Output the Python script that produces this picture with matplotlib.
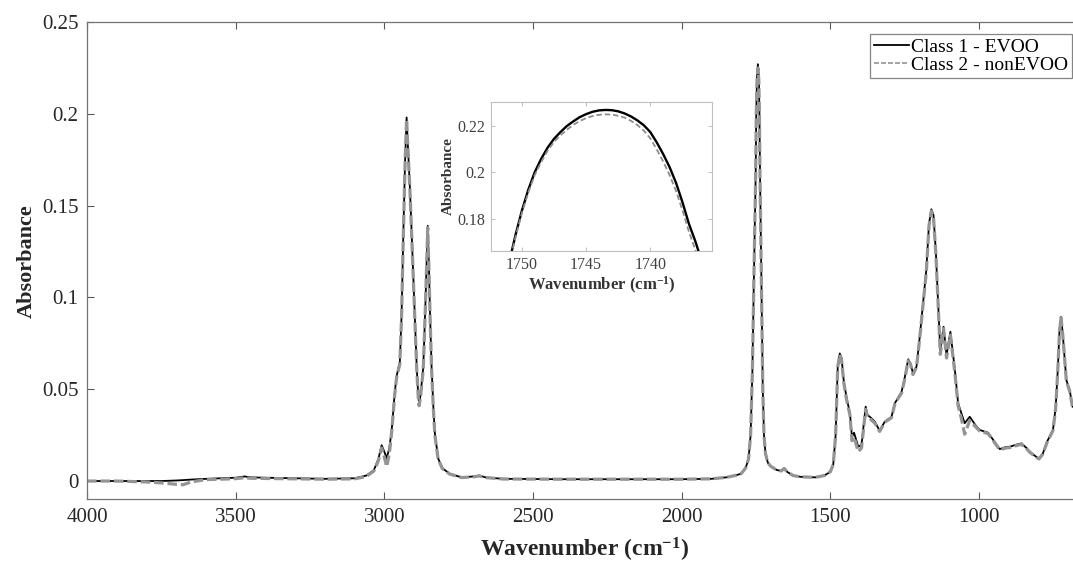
import matplotlib
matplotlib.use('Agg')
import matplotlib.pyplot as plt
from matplotlib.ticker import FixedLocator

# values (wavenumber in cm-1, absorbance)
wavenumber = [4000, 3900, 3800, 3750, 3700, 3677, 3650, 3600, 3550, 3500, 3470, 3450, 3400, 3300, 3200,
              3100, 3060, 3035, 3020, 3009, 3000, 2992, 2983, 2975, 2965, 2959, 2952, 2948, 2942, 2936,
              2930, 2925, 2920, 2914, 2908, 2900, 2891, 2886, 2883, 2878, 2869, 2862, 2858, 2854, 2850,
              2846, 2841, 2835, 2830, 2819, 2805, 2780, 2740, 2700, 2680, 2660, 2600, 2400, 2200, 2000,
              1900, 1850, 1820, 1800, 1785, 1775, 1768, 1762, 1757, 1751, 1749, 1746.5, 1743.5, 1740.3,
              1738.3, 1736.2, 1733, 1730, 1727, 1723, 1718, 1710, 1700, 1680, 1665, 1655, 1645, 1625,
              1600, 1550, 1520, 1500, 1490, 1482, 1475, 1468, 1462, 1455, 1446, 1434, 1427, 1420, 1406,
              1395, 1381, 1375, 1367, 1350, 1334, 1317, 1294, 1283, 1260, 1249, 1238, 1230, 1222, 1210,
              1199, 1188, 1177, 1168, 1160, 1153, 1145, 1138, 1130, 1119, 1109, 1096, 1081, 1070, 1059,
              1048, 1031, 1008, 997, 969, 950, 930, 910, 896, 870, 857, 840, 829, 810, 798, 785, 771,
              751, 742, 735, 729, 724, 718, 714, 706, 695, 685]

class1_evoo = [0.0, 0.0, 0.0, 0.0, 0.0003, 0.0005, 0.0008, 0.0012, 0.0015, 0.0018, 0.0025, 0.002, 0.0018,
               0.0015, 0.0012, 0.0015, 0.003, 0.006, 0.012, 0.0195, 0.016, 0.0125, 0.018, 0.028, 0.048,
               0.0568, 0.062, 0.064, 0.09, 0.135, 0.175, 0.198, 0.18, 0.16, 0.135, 0.1, 0.062, 0.047,
               0.042, 0.047, 0.062, 0.095, 0.117, 0.139, 0.117, 0.09, 0.062, 0.04, 0.026, 0.0124, 0.007,
               0.004, 0.002, 0.0025, 0.003, 0.002, 0.0012, 0.001, 0.001, 0.001, 0.0012, 0.002, 0.003,
               0.004, 0.007, 0.012, 0.025, 0.06, 0.11, 0.166, 0.2, 0.22, 0.227, 0.22, 0.2, 0.166, 0.125,
               0.09, 0.05, 0.025, 0.015, 0.01, 0.008, 0.006, 0.0055, 0.007, 0.005, 0.003, 0.0023, 0.002,
               0.003, 0.005, 0.009, 0.025, 0.062, 0.0695, 0.067, 0.055, 0.046, 0.037, 0.024, 0.0263,
               0.0187, 0.0196, 0.0405, 0.036, 0.035, 0.0323, 0.0274, 0.0323, 0.035, 0.0423, 0.0487,
               0.0568, 0.0663, 0.064, 0.0587, 0.0623, 0.0786, 0.0968, 0.115, 0.14, 0.148, 0.145, 0.125,
               0.1, 0.0704, 0.084, 0.0686, 0.0813, 0.0605, 0.0423, 0.0369, 0.0315, 0.035, 0.0296, 0.0278,
               0.0263, 0.022, 0.0174, 0.0185, 0.0187, 0.02, 0.0205, 0.018, 0.016, 0.0135, 0.0123, 0.015,
               0.0214, 0.0278, 0.04, 0.06, 0.082, 0.0895, 0.08, 0.0713, 0.055, 0.0496, 0.0405]

class2_nonevoo = [0.0, 0.0, -0.0005, -0.001, -0.0018, -0.002, -0.0005, 0.0008, 0.001, 0.0013, 0.0018, 0.0015,
                  0.0014, 0.0012, 0.001, 0.0012, 0.0025, 0.0055, 0.011, 0.018, 0.013, 0.0078, 0.015,
                  0.027, 0.047, 0.056, 0.061, 0.0635, 0.089, 0.134, 0.174, 0.197, 0.179, 0.159, 0.134,
                  0.099, 0.061, 0.046, 0.041, 0.046, 0.061, 0.094, 0.116, 0.138, 0.116, 0.089, 0.061,
                  0.039, 0.025, 0.012, 0.0068, 0.0038, 0.0019, 0.0023, 0.0028, 0.0019, 0.0011, 0.001,
                  0.001, 0.001, 0.0012, 0.002, 0.003, 0.004, 0.007, 0.012, 0.025, 0.06, 0.11, 0.166,
                  0.199, 0.218, 0.225, 0.218, 0.198, 0.164, 0.124, 0.089, 0.05, 0.025, 0.015, 0.01,
                  0.008, 0.006, 0.0055, 0.0068, 0.005, 0.003, 0.0023, 0.002, 0.003, 0.005, 0.009, 0.025,
                  0.062, 0.069, 0.066, 0.054, 0.045, 0.036, 0.022, 0.024, 0.016, 0.018, 0.039, 0.035,
                  0.034, 0.0315, 0.027, 0.032, 0.0345, 0.042, 0.048, 0.056, 0.0655, 0.0635, 0.058, 0.062,
                  0.078, 0.096, 0.114, 0.139, 0.147, 0.144, 0.124, 0.099, 0.069, 0.083, 0.067, 0.0795,
                  0.059, 0.041, 0.034, 0.0255, 0.033, 0.029, 0.0272, 0.0258, 0.0215, 0.017, 0.018, 0.0182,
                  0.0195, 0.02, 0.0176, 0.0157, 0.0132, 0.012, 0.0147, 0.021, 0.0275, 0.0395, 0.0595,
                  0.0815, 0.089, 0.0795, 0.071, 0.0545, 0.049, 0.04]

# zoomed carbonyl band (inset)
inset_wavenumber = [1751, 1750.5, 1750, 1749.5, 1749, 1748.5, 1748, 1747.5, 1747, 1746.5, 1746, 1745.5,
                    1745, 1744.5, 1744, 1743.5, 1743, 1742.5, 1742, 1741.5, 1741, 1740.5, 1740, 1739.5,
                    1739, 1738.5, 1738, 1737.5, 1737, 1736.5, 1736]
inset_class1 = [0.161, 0.173, 0.1835, 0.1925, 0.2, 0.2057, 0.2105, 0.2143, 0.2172, 0.2198, 0.2218, 0.2236,
                0.2249, 0.2259, 0.2265, 0.2267, 0.2266, 0.2261, 0.2252, 0.2239, 0.2222, 0.2201, 0.2172,
                0.2128, 0.2078, 0.2022, 0.1955, 0.1872, 0.178, 0.1705, 0.162]
inset_class2 = [0.1605, 0.172, 0.1825, 0.1913, 0.1988, 0.2043, 0.2092, 0.213, 0.2158, 0.2182, 0.2203,
                0.2219, 0.2232, 0.2241, 0.2246, 0.2248, 0.2247, 0.2242, 0.2234, 0.222, 0.2202, 0.2178,
                0.2145, 0.2098, 0.2046, 0.1988, 0.192, 0.1838, 0.1746, 0.1668, 0.1583]

plt.rcParams['font.family'] = ['Liberation Serif', 'DejaVu Serif']
plt.rcParams['mathtext.fontset'] = 'custom'
plt.rcParams['mathtext.rm'] = 'Liberation Serif:bold'
plt.rcParams['mathtext.default'] = 'rm'

fig = plt.figure(figsize=(10.73, 5.72), dpi=100)
ax = fig.add_axes([87 / 1073, 1 - 499.4 / 572, 996 / 1073, 477.4 / 572])

ax.plot(wavenumber, class1_evoo, color='black', linewidth=1.3, label='Class 1 - EVOO')
ax.plot(wavenumber, class2_nonevoo, color='0.58', linewidth=2.3, dashes=(3, 1.2), label='Class 2 - nonEVOO')

ax.set_xlim(4000, 650)
ax.set_ylim(-0.01, 0.25)
ax.xaxis.set_major_locator(FixedLocator([4000, 3500, 3000, 2500, 2000, 1500, 1000]))
ax.yaxis.set_major_locator(FixedLocator([0, 0.05, 0.1, 0.15, 0.2, 0.25]))
ax.set_yticklabels(['0', '0.05', '0.1', '0.15', '0.2', '0.25'])
ax.tick_params(direction='in', length=5, width=0.8, color='0.35', labelcolor='0.15',
               labelsize=15, top=True, pad=6)
for side in ax.spines:
    ax.spines[side].set_color('0.45')
    ax.spines[side].set_linewidth(0.9)

ax.set_xlabel('Wavenumber (cm$^{-1}$)', fontsize=17, fontweight='bold', color='0.15')
ax.set_ylabel('Absorbance', fontsize=16, fontweight='bold', color='0.15')
ax.xaxis.set_label_coords(0.5, -0.077)
ax.yaxis.set_label_coords(-0.05, 0.5)

leg = ax.legend(loc='upper right', bbox_to_anchor=(1072 / 1073, 1 - 34 / 572),
                bbox_transform=fig.transFigure, borderaxespad=0, fontsize=14,
                fancybox=False, handlelength=1.8, handletextpad=0.1, borderpad=0.2,
                labelspacing=0.05, frameon=True)
leg.get_frame().set_edgecolor('0.4')
leg.get_frame().set_linewidth(0.9)
leg.get_lines()[1].set_linewidth(1.2)

# inset with the carbonyl peak
ins = fig.add_axes([491 / 1073, 1 - 251 / 572, 221 / 1073, 149 / 572])
ins.plot(inset_wavenumber, inset_class1, color='black', linewidth=1.7)
ins.plot(inset_wavenumber, inset_class2, color='0.55', linewidth=1.3, dashes=(3, 1.6))
ins.set_xlim(1752.4, 1735.2)
ins.set_ylim(0.1663, 0.2301)
ins.xaxis.set_major_locator(FixedLocator([1750, 1745, 1740]))
ins.yaxis.set_major_locator(FixedLocator([0.18, 0.2, 0.22]))
ins.set_yticklabels(['0.18', '0.2', '0.22'])
ins.tick_params(direction='in', length=3, width=0.6, color='0.7', labelcolor='0.25',
                labelsize=11.5, top=True, right=True, pad=4)
for side in ins.spines:
    ins.spines[side].set_color('0.75')
    ins.spines[side].set_linewidth(0.8)
ins.set_xlabel('Wavenumber (cm$^{-1}$)', fontsize=12, fontweight='bold', color='0.2', labelpad=2)
ins.set_ylabel('Absorbance', fontsize=11, fontweight='bold', color='0.2', labelpad=2)

fig.savefig('out.png', dpi=100)
